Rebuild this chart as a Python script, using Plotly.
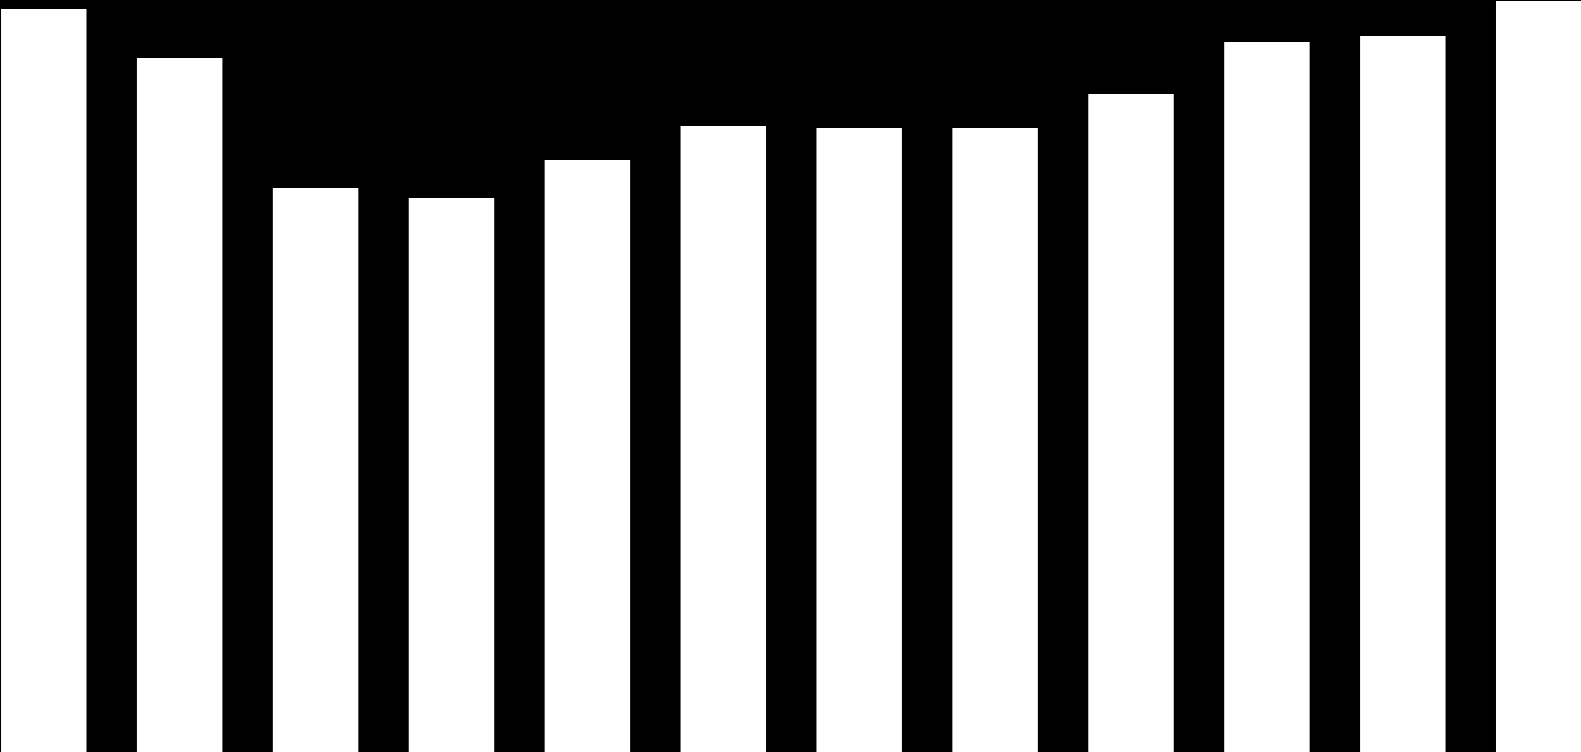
import plotly.graph_objects as go

# bar positions and heights (y unit = 1 px of plot height)
positions = list(range(12))
values = [743, 694, 564, 554, 592, 626, 624, 624, 658, 710, 716, 751]

fig = go.Figure(go.Bar(
    x=positions,
    y=values,
    marker=dict(color="white", line=dict(width=0)),
    hoverinfo="skip",
))

fig.update_layout(
    width=1581, height=752,
    margin=dict(l=0, r=0, t=0, b=0),
    paper_bgcolor="black", plot_bgcolor="black",
    bargap=0.371,
    showlegend=False,
    xaxis=dict(range=[-0.322, 11.311], visible=False, showgrid=False, zeroline=False),
    yaxis=dict(range=[0, 752], visible=False, showgrid=False, zeroline=False),
)

# page has a default 8px body margin; drop it so the figure fills the window
fig.write_html(
    "out.html",
    config={"displayModeBar": False},
    post_script="document.body.style.margin='0';",
)
